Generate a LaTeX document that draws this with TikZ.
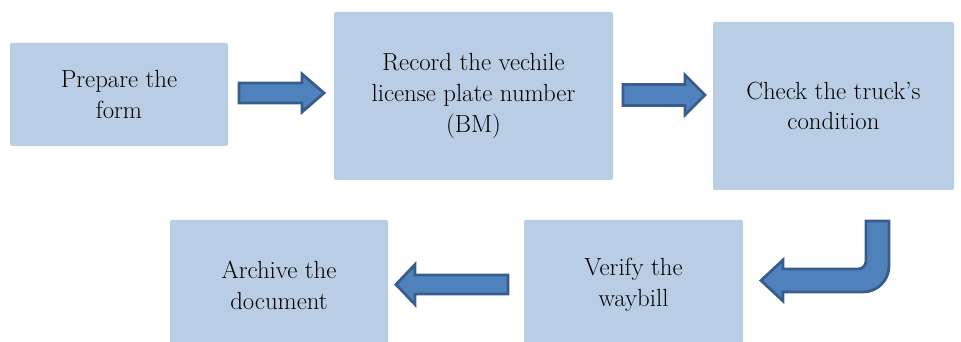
\documentclass[tikz,border=0pt]{standalone}
\usepackage{xcolor}
\definecolor{boxblue}{HTML}{B9CDE5}
\definecolor{arrowfill}{HTML}{4F81BD}
\definecolor{arrowline}{HTML}{385D8A}

\begin{document}
\begin{tikzpicture}[x=0.75pt, y=-0.75pt, every node/.style={font=\fontsize{18.6}{23}\selectfont},
  box/.style={rectangle, fill=boxblue, rounded corners=1.5pt, align=center, inner sep=0pt},
  blockarrow/.style={fill=arrowfill, draw=arrowline, line width=2.1pt, line join=miter}]
\useasboundingbox (0,0) rectangle (961,342);
\clip (0,0) rectangle (961,342);
\node[box, minimum width=163.5pt, minimum height=77.25pt] (prep) at (119,94.5) {Prepare the\\form};
\node[box, minimum width=209.25pt, minimum height=126pt] (rec) at (473.5,96) {Record the vechile\\license plate number\\(BM)};
\node[box, minimum width=180.75pt, minimum height=126pt] (check) at (833.5,106) {Check the truck’s\\condition};
\node[box, minimum width=164.25pt, minimum height=97.5pt] (verify) at (633.5,285) {Verify the\\waybill};
\node[box, minimum width=163.5pt, minimum height=97.5pt] (archive) at (279,285) {Archive the\\document};
\coordinate (a1) at (239,93);
\coordinate (a2) at (623,95);
\coordinate (a3) at (877.5,221);
\coordinate (a4) at (508,284.5);
\draw[blockarrow] (a1) ++(0,-10) -- ++(63,0) -- ++(0,-9) -- ++(22,19) -- ++(-22,19) -- ++(0,-9) -- ++(-63,0) -- cycle;
\draw[blockarrow] (a2) ++(0,-10.5) -- ++(62,0) -- ++(0,-9.5) -- ++(20,20) -- ++(-20,20) -- ++(0,-9.5) -- ++(-62,0) -- cycle;
\draw[blockarrow] (a3) ++(11.5,0) -- ++(0,45) arc[start angle=0, end angle=-90, radius=19.5pt] -- ++(-80,0) -- ++(0,9) -- ++(-22,-20.5) -- ++(22,-20.5) -- ++(0,9) -- ++(75,0) arc[start angle=-90, end angle=0, radius=6pt] -- ++(0,-40) -- cycle;
\draw[blockarrow] (a4) ++(0,-9.5) -- ++(-93,0) -- ++(0,-10.5) -- ++(-19,20) -- ++(19,20) -- ++(0,-10.5) -- ++(93,0) -- cycle;
\end{tikzpicture}
\end{document}
